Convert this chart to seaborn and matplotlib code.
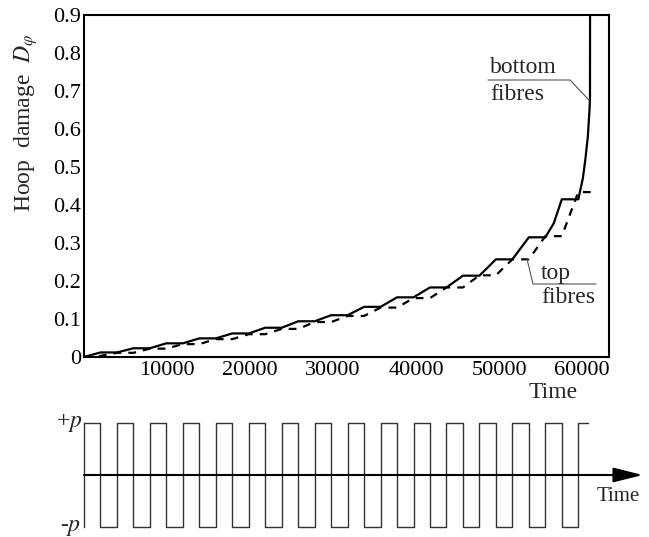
import numpy as np
import pandas as pd
import matplotlib
matplotlib.use("Agg")
import matplotlib.pyplot as plt
import seaborn as sns
from matplotlib.lines import Line2D

# ---------------- data ----------------
bottom_t = [0, 1985, 3970, 5955, 7940, 9925, 11910, 13895, 15880, 17865, 19850,
            21835, 23820, 25805, 27790, 29775, 31760, 33745, 35730, 37715, 39700,
            41685, 43670, 45655, 47640, 49625, 51610, 53595, 55580, 56600, 57565,
            59550, 60100, 60400, 60700, 60900, 60960, 60970]
bottom_d = [0, 0.012, 0.012, 0.023, 0.023, 0.036, 0.036, 0.049, 0.049, 0.062, 0.062,
            0.077, 0.077, 0.094, 0.094, 0.110, 0.110, 0.132, 0.132, 0.157, 0.157,
            0.183, 0.183, 0.214, 0.214, 0.257, 0.257, 0.315, 0.315, 0.352, 0.415,
            0.415, 0.47, 0.52, 0.58, 0.65, 0.68, 0.95]

top_t = [0, 1985, 3970, 5955, 7940, 9925, 11910, 13895, 15880, 17865, 19850,
         21835, 23820, 25805, 27790, 29775, 31760, 33745, 35730, 37715, 39700,
         41685, 43670, 45655, 47640, 49625, 51610, 53595, 55580, 57565, 59550, 61300]
top_d = [0, 0.003, 0.011, 0.011, 0.022, 0.022, 0.034, 0.034, 0.047, 0.047, 0.060,
         0.060, 0.074, 0.074, 0.092, 0.092, 0.108, 0.108, 0.130, 0.130, 0.155,
         0.155, 0.183, 0.183, 0.215, 0.215, 0.257, 0.257, 0.318, 0.318, 0.434, 0.434]

wave_t = [0, 1985, 3970, 5955, 7940, 9925, 11910, 13895, 15880, 17865, 19850,
          21835, 23820, 25805, 27790, 29775, 31760, 33745, 35730, 37715, 39700,
          41685, 43670, 45655, 47640, 49625, 51610, 53595, 55580, 57565, 59550, 60720]
wave_p = [1, -1, 1, -1, 1, -1, 1, -1, 1, -1, 1, -1, 1, -1, 1, -1,
          1, -1, 1, -1, 1, -1, 1, -1, 1, -1, 1, -1, 1, -1, 1, 1]

x_ticks = [10000, 20000, 30000, 40000, 50000, 60000]
x_tick_labels = ["10000", "20000", "30000", "40000", "50000", "60000"]
y_ticks = [0, 0.1, 0.2, 0.3, 0.4, 0.5, 0.6, 0.7, 0.8, 0.9]
y_tick_labels = ["0", "0.1", "0.2", "0.3", "0.4", "0.5", "0.6", "0.7", "0.8", "0.9"]

# ---------------- style ----------------
sns.set_style("white")
plt.rcParams["font.family"] = ["Liberation Serif", "DejaVu Serif"]
plt.rcParams["mathtext.fontset"] = "stix"

W, H = 649, 537
fig = plt.figure(figsize=(W / 100, H / 100), dpi=100)


def fx(px):
    return px / W


def fy(py):
    return 1 - py / H


# ---------------- main axes ----------------
ax = fig.add_axes([fx(84), fy(357), (609 - 84) / W, (357 - 15) / H])
df_b = pd.DataFrame({"t": bottom_t, "D": bottom_d})
df_t = pd.DataFrame({"t": top_t, "D": top_d})
sns.lineplot(data=df_b, x="t", y="D", ax=ax, color="black", lw=1.6,
             estimator=None, sort=False)
sns.lineplot(data=df_t, x="t", y="D", ax=ax, color="black", lw=1.6,
             estimator=None, sort=False)
ax.lines[-1].set_dashes((3.5, 3.2))

ax.set_xlim(0, 63250)
ax.set_ylim(0, 0.9)
ax.set_xticks(x_ticks)
ax.set_xticklabels(x_tick_labels)
ax.set_yticks(y_ticks)
ax.set_yticklabels(y_tick_labels)
ax.tick_params(direction="in", length=7, width=1.1, labelsize=16,
               top=False, right=False, colors="black")
ax.tick_params(axis="x", pad=3)
ax.tick_params(axis="y", pad=2)
for s in ax.spines.values():
    s.set_visible(True)
    s.set_linewidth(1.5)
    s.set_color("black")
ax.set_xlabel("")
ax.set_ylabel("")

fig.text(fx(26), fy(123), "Hoop  damage  $D_{\\varphi}$", rotation=90,
         ha="center", va="center", fontsize=17)
fig.text(fx(553), fy(398), "Time", ha="center", va="baseline", fontsize=17)

# annotations
fig.text(fx(490), fy(73), "bottom", ha="left", va="baseline", fontsize=17)
fig.text(fx(490), fy(100), "fibres", ha="left", va="baseline", fontsize=17)
fig.add_artist(Line2D([fx(488), fx(570), fx(589)], [fy(80), fy(80), fy(100)],
                      transform=fig.transFigure, color="#555555", lw=0.8))
fig.text(fx(541), fy(279), "top", ha="left", va="baseline", fontsize=17)
fig.text(fx(541), fy(303), "fibres", ha="left", va="baseline", fontsize=17)
fig.add_artist(Line2D([fx(527), fx(533), fx(596)], [fy(259), fy(284), fy(284)],
                      transform=fig.transFigure, color="#555555", lw=0.8))

# ---------------- loading panel ----------------
ax2 = fig.add_axes([fx(84), fy(530), (645 - 84) / W, 110 / H])
df_w = pd.DataFrame({"t": wave_t, "p": wave_p})
sns.lineplot(data=df_w, x="t", y="p", ax=ax2, color="#333333", lw=1.0,
             estimator=None, sort=False, drawstyle="steps-post")
ax2.set_xlim(0, 67590)
ax2.set_ylim(-1.058, 1.058)
ax2.set_xticks([])
ax2.set_yticks([])
ax2.set_xlabel("")
ax2.set_ylabel("")
for k in ["top", "right", "bottom"]:
    ax2.spines[k].set_visible(False)
ax2.spines["left"].set_visible(True)
ax2.spines["left"].set_bounds(-1, 1)
ax2.spines["left"].set_linewidth(1.0)
ax2.spines["left"].set_color("#333333")
ax2.patch.set_alpha(0)
ax2.annotate("", xy=(0.996, 0.5), xytext=(0.0, 0.5),
             xycoords="axes fraction", textcoords="axes fraction",
             arrowprops=dict(arrowstyle="-|>,head_length=1.8,head_width=0.45",
                             lw=1.5, color="black", shrinkA=0, shrinkB=0))
fig.text(fx(82), fy(423), "+$p$", ha="right", va="center", fontsize=17)
fig.text(fx(81), fy(527), "-$p$", ha="right", va="center", fontsize=17)
fig.text(fx(597), fy(501), "Time", ha="left", va="baseline", fontsize=15)

fig.savefig("out.png", dpi=100)
